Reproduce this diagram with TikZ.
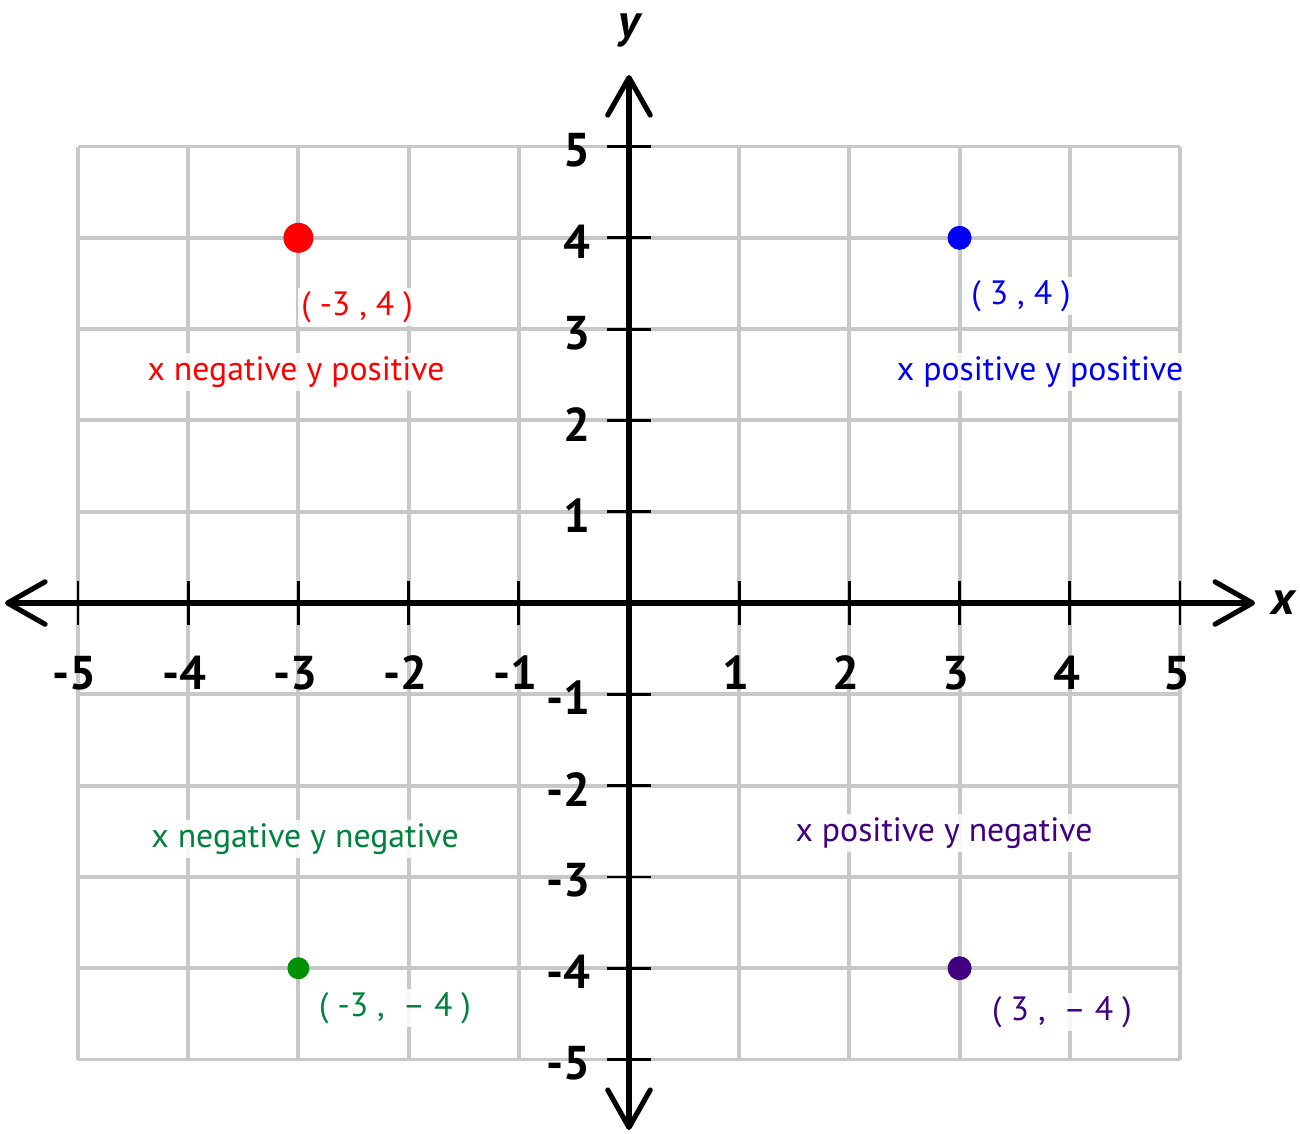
\documentclass[tikz,border=0pt]{standalone}
\usepackage{fontspec}
\setmainfont{PT Sans}
\usetikzlibrary{arrows.meta}
\usetikzlibrary{positioning}
\definecolor{gridgray}{RGB}{200,200,200}
\definecolor{qred}{RGB}{255,0,0}
\definecolor{qblue}{RGB}{0,0,245}
\definecolor{qgreen}{RGB}{0,130,60}
\definecolor{qgreendot}{RGB}{0,145,0}
\definecolor{qpurple}{RGB}{64,0,128}
\tikzset{
  axisline/.style = {line width = 2.9pt, line cap = round,
    {Straight Barb[length = 7.5mm, width = 8.5mm, round]}-{Straight Barb[length = 7.5mm, width = 8.5mm, round]}},
  gridline/.style = {gridgray, line width = 2.2pt},
  tickmark/.style = {line width = 1.6pt},
  num/.style = {font = \fontsize{27}{30}\selectfont\bfseries, inner sep = 0pt},
  axisname/.style = {font = \fontsize{27}{30}\selectfont\bfseries\itshape},
  ptdot/.style = {circle, inner sep = 0pt, minimum size = 4.8mm},
  lbl/.style = {fill = white, fill opacity = 0.85, text opacity = 1,
    inner sep = 2pt, font = \fontsize{19.2}{22}\selectfont}
}

\begin{document}
\begin{tikzpicture}[x = 2.204cm, y = 1.826cm]
  \useasboundingbox (-5.708,-5.805) rectangle (6.089,6.605);
  % grid
  \foreach \i in {-5,...,5} {
    \draw[gridline] (\i,-5) -- (\i,5);
    \draw[gridline] (-5,\i) -- (5,\i);
  }
  % axes
  \coordinate (xl) at (-5.662,0);
  \coordinate (xr) at (5.681,0);
  \coordinate (yt) at (0,5.783);
  \coordinate (yb) at (0,-5.772);
  \draw[axisline] (xl) -- (xr);
  \draw[axisline] (yb) -- (yt);
  \node (xname) [axisname] at (5.94,0) {x};
  \node (yname) [axisname] at (0,6.276) {y};
  % ticks and numbers
  \foreach \i in {-5,...,-1,1,2,...,5} {
    \draw[tickmark] (\i,-0.24) -- (\i,0.24);
    \draw[tickmark] (-0.2,\i) -- (0.2,\i);
    \node (nx\i) [num] at (\i-0.03,-0.767) {\i};
    \node (ny\i) [num, anchor = east] at (-0.345,\i-0.04) {\i};
  }
  % points
  \node (pA) [ptdot, fill = qred, minimum size = 6mm] at (-3,4) {};
  \node (pB) [ptdot, fill = qblue] at (3,4) {};
  \node (pC) [ptdot, fill = qgreendot, minimum size = 4.4mm] at (-3,-4) {};
  \node (pD) [ptdot, fill = qpurple] at (3,-4) {};
  % labels
  \node (cA) [lbl, text = qred] at (-2.468,3.242) {( -3 , 4 )};
  \node (qA) [lbl, text = qred] at (-3.022,2.530) {x negative y positive};
  \node (cB) [lbl, text = qblue] at (3.557,3.363) {( 3 , 4 )};
  \node (qB) [lbl, text = qblue] at (3.730,2.530) {x positive y positive};
  \node (qC) [lbl, text = qgreen] at (-2.940,-2.585) {x negative y negative};
  \node (cC) [lbl, text = qgreen] at (-2.123,-4.436) {( -3 ,\ \ – 4 )};
  \node (qD) [lbl, text = qpurple] at (2.858,-2.519) {x positive y negative};
  \node (cD) [lbl, text = qpurple] at (3.929,-4.480) {( 3 ,\ \ – 4 )};
\end{tikzpicture}
\end{document}
